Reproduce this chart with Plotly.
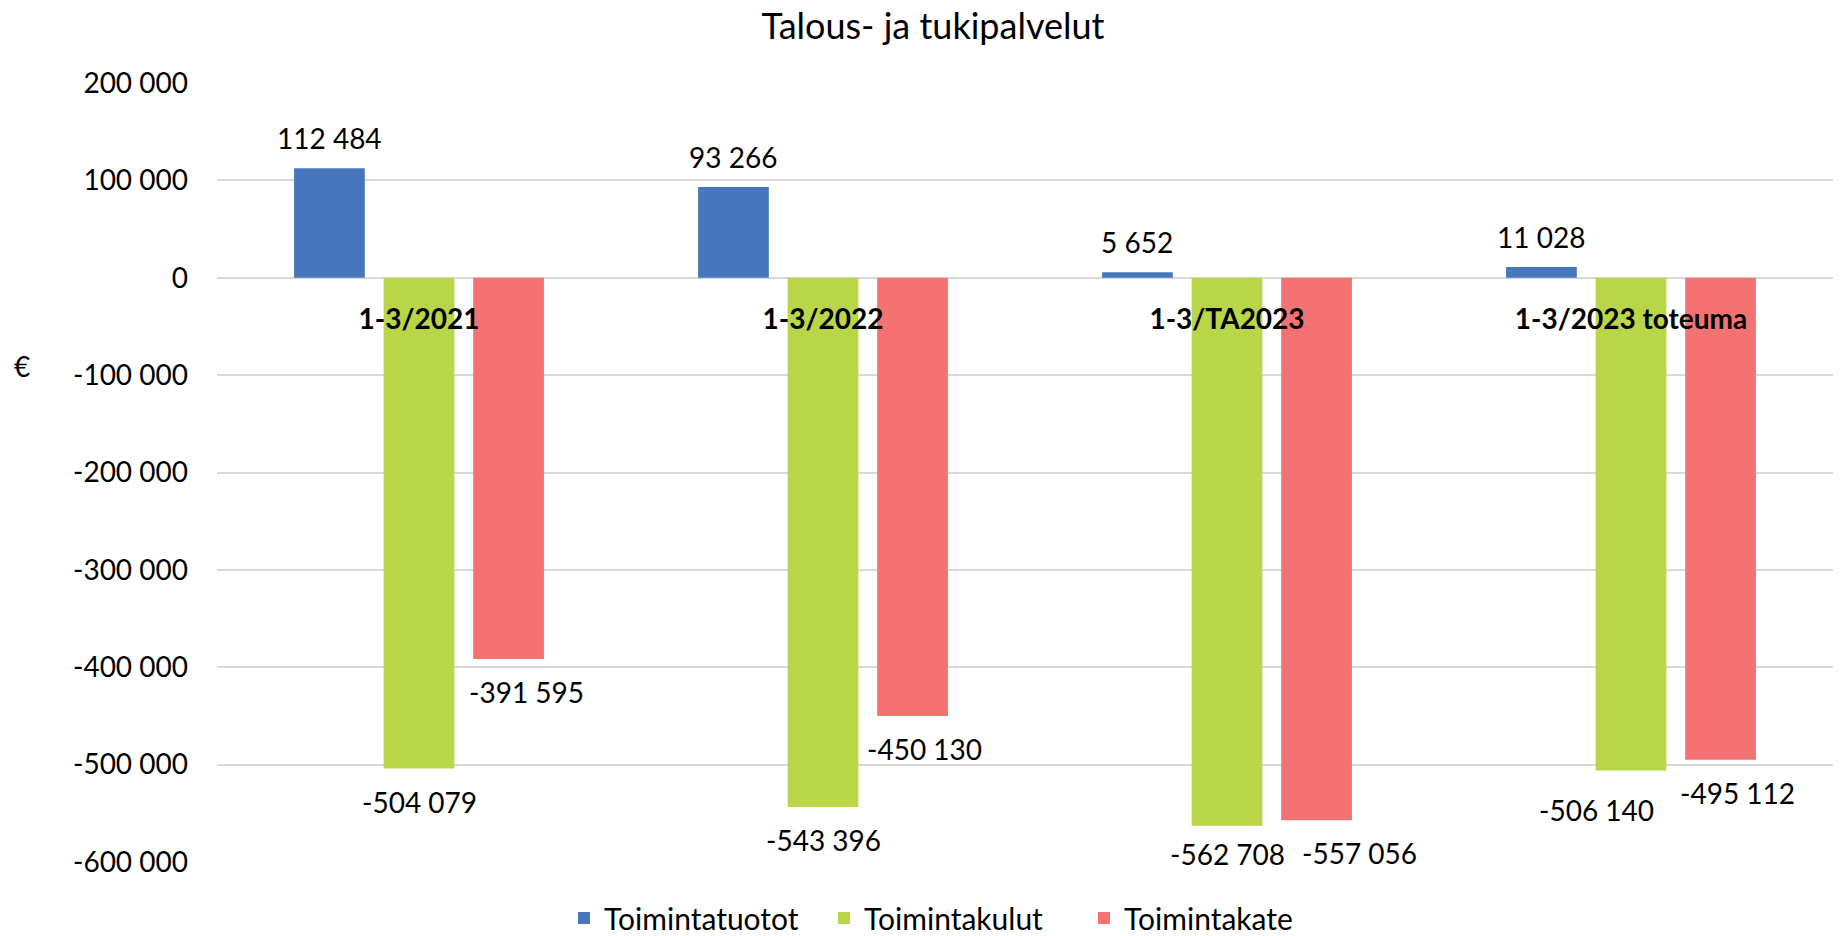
import plotly.graph_objects as go

# ---------------- data ----------------
categories = ["1-3/2021", "1-3/2022", "1-3/TA2023", "1-3/2023 toteuma"]
toimintatuotot = [112484, 93266, 5652, 11028]
toimintakulut = [-504079, -543396, -562708, -506140]
toimintakate = [-391595, -450130, -557056, -495112]
series_names = ["Toimintatuotot", "Toimintakulut", "Toimintakate"]
y_tick_values = [200000, 100000, 0, -100000, -200000, -300000, -400000, -500000, -600000]
y_tick_labels = ["200 000", "100 000", "0", "-100 000", "-200 000", "-300 000",
                 "-400 000", "-500 000", "-600 000"]
title_text = "Talous- ja tukipalvelut"
y_title = "€"

# ---------------- style ----------------
colors = ["#4677BD", "#B8D648", "#F57272"]
FONT = "Lato, 'Open Sans', sans-serif"
PAGE_OFF = 0                      # body margin removed via post_script
W, H = 1840 - PAGE_OFF, 936 - PAGE_OFF
# plot area on screen: x 217..1833, y 83..862
M_L = 217 - PAGE_OFF
M_R = W - (1833 - PAGE_OFF)
M_T = 83 - PAGE_OFF
M_B = H - (862 - PAGE_OFF)
plot_w = W - M_L - M_R
plot_h = H - M_T - M_B
BARGAP, BARGROUPGAP = 0.335, 0.21
slot_px = plot_w / len(categories) * (1 - BARGAP) / 3


def px_to_paper(sx, sy):
    """screen px -> paper coords"""
    fx, fy = sx - PAGE_OFF, sy - PAGE_OFF
    return (fx - M_L) / plot_w, (H - M_B - fy) / plot_h


# manual label nudges (dx, dy in px) per series / category, like the original
nudge = {
    0: [(0, 0)] * 4,
    1: [(0, 0), (0, 0), (0, 5), (-35, -6)],
    2: [(18, 0), (12, 0), (43, 0), (17, 0)],
}


def fmt(v):
    s = f"{abs(v):,}".replace(",", " ")
    return ("-" if v < 0 else "") + s


all_series = [toimintatuotot, toimintakulut, toimintakate]

fig = go.Figure()
for i, (name, vals) in enumerate(zip(series_names, all_series)):
    fig.add_trace(go.Bar(
        name=name, x=categories, y=vals,
        marker=dict(color=colors[i], line=dict(width=0)),
    ))

annotations = []
for i, vals in enumerate(all_series):
    offset = (i - 1) * slot_px
    for j, (c, v) in enumerate(zip(categories, vals)):
        dx, dy = nudge[i][j]
        annotations.append(dict(
            x=c, y=v, xref="x", yref="y", text=fmt(v), showarrow=False,
            xshift=offset + dx,
            yshift=(30 if v >= 0 else -33) + dy,
            yanchor="middle", xanchor="center",
            font=dict(family=FONT, size=28, color="#000000"),
        ))

ex, ey = px_to_paper(22, 366)
annotations.append(dict(
    x=ex, y=ey, xref="paper", yref="paper", text=y_title, showarrow=False,
    xanchor="center", yanchor="middle",
    font=dict(family=FONT, size=28, color="#000000"),
))

lx, ly = px_to_paper(954, 918)

y_min, y_max = -600000, 200000
zero_frac = (0 - y_min) / (y_max - y_min)

fig.update_layout(
    width=W, height=H,
    margin=dict(l=M_L, r=M_R, t=M_T, b=M_B, autoexpand=False),
    paper_bgcolor="white", plot_bgcolor="white",
    barmode="group", bargap=BARGAP, bargroupgap=BARGROUPGAP,
    font=dict(family=FONT, size=28, color="#000000"),
    title=dict(text=title_text, x=(933 - PAGE_OFF) / W, xref="container", xanchor="center",
               y=1 - (26 - PAGE_OFF) / H, yref="container", yanchor="middle",
               font=dict(family=FONT, size=36, color="#000000")),
    xaxis=dict(
        type="category", anchor="free", position=zero_frac,
        showline=False, showgrid=False, ticks="",
        tickfont=dict(family=FONT, size=28, color="#000000", weight="bold"),
        ticklabelstandoff=22,
    ),
    yaxis=dict(
        range=[y_min, y_max], tickmode="array",
        tickvals=y_tick_values, ticktext=y_tick_labels,
        showgrid=True, gridcolor="#D9D9D9", gridwidth=2,
        zeroline=True, zerolinecolor="#D9D9D9", zerolinewidth=2,
        showline=False, ticks="", ticklabelstandoff=28,
        tickfont=dict(family=FONT, size=28, color="#000000"),
    ),
    legend=dict(
        orientation="h", x=lx, xanchor="center",
        y=ly, yanchor="middle",
        font=dict(family=FONT, size=30, color="#000000"),
        itemwidth=30, traceorder="normal",
        entrywidth=215, entrywidthmode="pixels",
    ),
    annotations=annotations,
    showlegend=True,
)

fig.write_html(
    "out.html",
    config={"displayModeBar": False},
    post_script="document.body.style.margin='0';document.body.style.overflow='hidden';",
)
